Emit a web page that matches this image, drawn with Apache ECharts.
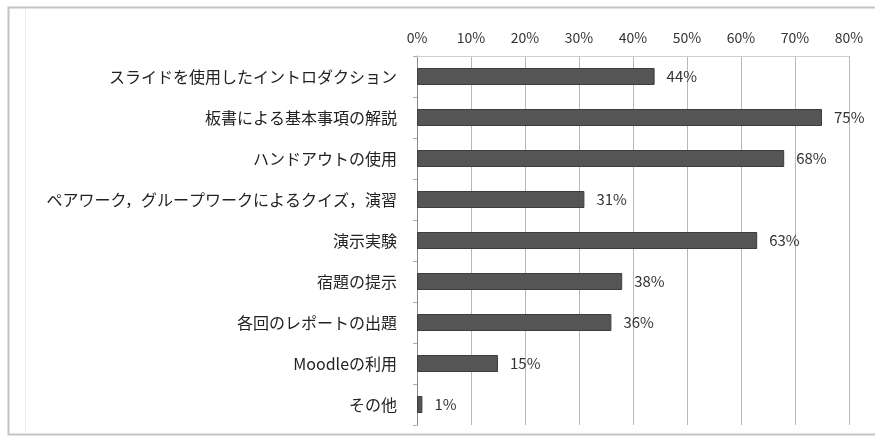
<!DOCTYPE html>
<html>
<head>
<meta charset="utf-8">
<script src="https://cdn.jsdelivr.net/npm/echarts@6/dist/echarts.min.js"></script>
<style>
  html, body { margin: 0; padding: 0; background: #fff; }
  #chart { width: 875px; height: 440px; }
</style>
</head>
<body>
<div id="chart"></div>
<script>
// 授業で用いた手法の割合 (%)
const categories = [
  'スライドを使用したイントロダクション',
  '板書による基本事項の解説',
  'ハンドアウトの使用',
  'ペアワーク，グループワークによるクイズ，演習',
  '演示実験',
  '宿題の提示',
  '各回のレポートの出題',
  'Moodleの利用',
  'その他'
];
const values = [44, 75, 68, 31, 63, 38, 36, 15, 1];
const tickMax = 80;
const tickStep = 10;

const chart = echarts.init(document.getElementById('chart'), null, { renderer: 'canvas' });

const jpFont = '"Noto Sans CJK JP", "Noto Sans", sans-serif';

chart.setOption({
  backgroundColor: '#ffffff',
  animation: false,
  graphic: [
    {
      type: 'rect',
      shape: { x: 8.5, y: 7.5, width: 880, height: 427 },
      style: { fill: 'none', stroke: '#c4c4c4', lineWidth: 2 },
      silent: true
    },
    {
      type: 'line',
      shape: { x1: 25.5, y1: 9, x2: 25.5, y2: 433 },
      style: { stroke: '#ececec', lineWidth: 1 },
      silent: true
    }
  ],
  grid: { left: 417, right: 26, top: 56, bottom: 15, containLabel: false },
  xAxis: {
    type: 'value',
    position: 'top',
    min: 0,
    max: tickMax,
    interval: tickStep,
    axisLine: { show: true, lineStyle: { color: '#d0d0d0' } },
    axisTick: { show: false },
    splitLine: { show: true, lineStyle: { color: '#b8b8b8', width: 1 } },
    axisLabel: {
      formatter: '{value}%',
      color: '#333',
      fontSize: 14,
      fontFamily: jpFont,
      margin: 11
    }
  },
  yAxis: {
    type: 'category',
    data: categories,
    inverse: true,
    axisLine: { show: true, lineStyle: { color: '#888' } },
    axisTick: { show: true, length: 4, lineStyle: { color: '#aaa' } },
    splitLine: { show: false },
    axisLabel: {
      color: '#222',
      fontSize: 16,
      fontFamily: jpFont,
      margin: 20
    }
  },
  series: [
    {
      type: 'bar',
      data: values,
      barWidth: 17,
      itemStyle: { color: '#555555', borderColor: '#3d3d3d', borderWidth: 1 },
      label: {
        show: true,
        position: 'right',
        distance: 12,
        formatter: '{c}%',
        color: '#333',
        fontSize: 15,
        fontFamily: jpFont
      }
    }
  ]
});
</script>
</body>
</html>
